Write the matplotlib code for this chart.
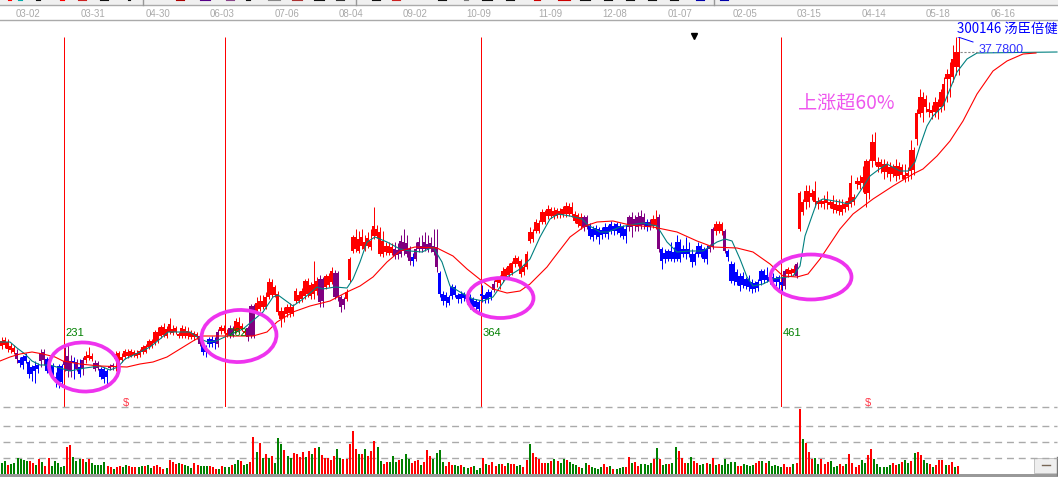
import matplotlib
matplotlib.use("Agg")
import matplotlib.pyplot as plt
from matplotlib.patches import Ellipse, Rectangle
import numpy as np

W, H = 1058, 489
CJK = ['Noto Sans CJK SC', 'DejaVu Sans']

# ---------- candles (price index units) ----------
body_top = [
 66,67,65,61,59,54,47,50,51,45, 40,41,42,54,55,48,48,41,30,41,
 41,46,51,46,46,45,40,47,51,52, 51,44,44,38,38,36,41,42,53,54,
 50,56,55,56,55,54,56,60,61,66, 66,75,75,80,80,78,83,78,79,73,
 79,78,76,75,74,73,71,63,60,68, 68,67,75,80,79,74,79,78,86,85,
 81,76,79,101,101,104,106,106,110,125, 125,120,113,96,96,100,100,100,116,112,
 116,126,126,122,123,126,128,128,131,131, 136,134,134,110,108,115,148,170,170,168,
 170,165,169,166,181,178,175,166,161,161, 160,158,157,166,165,164,158,150,158,165,
 161,165,163,164,161,160,134,113,112,110, 120,120,112,113,113,112,110,108,106,105,
 113,112,115,115,123,128,128,136,138,141, 144,149,149,146,140,153,175,175,185,184,
 195,195,198,198,196,197,196,198,201,201, 200,193,192,190,190,190,181,178,179,178,
 177,180,180,183,181,183,181,180,178,190, 190,188,190,191,190,185,185,188,188,190,
 158,154,156,156,155,165,165,158,158,158, 153,153,161,161,158,158,161,178,183,183,
 183,176,156,143,143,135,131,131,128,128, 125,124,125,136,136,132,130,130,129,130,
 125,136,138,137,138,143,214,205,216,216, 214,216,206,206,206,207,205,205,203,202,
 202,203,206,224,210,226,226,230,246,246, 265,265,245,245,243,243,240,240,241,241,
 240,232,234,257,257,294,310,310,308,298, 297,305,305,315,323,333,333,348,355,355]
body_bottom = [
 61,62,58,57,55,48,44,42,46,33, 33,36,38,46,47,36,34,31,26,25,
 25,42,36,36,44,38,33,38,47,49, 48,38,39,30,28,30,39,40,48,47,
 47,50,51,51,52,51,52,55,55,60, 61,64,66,71,72,71,75,74,75,71,
 71,71,71,70,70,70,63,55,55,63, 63,64,63,76,76,72,71,72,76,76,
 78,74,70,71,71,96,98,100,100,110, 112,112,95,88,89,93,94,93,106,106,
 108,111,113,111,113,116,105,106,120,122, 125,110,110,100,102,108,127,156,158,156,
 161,158,161,160,171,171,153,153,155,154, 154,151,152,153,156,153,146,146,148,158,
 158,158,158,158,155,140,113,106,106,104, 111,112,108,108,109,108,102,100,100,98,
 111,108,108,110,117,125,124,128,130,132, 134,143,143,133,135,140,166,168,176,176,
 185,185,191,191,191,191,192,192,193,193, 193,186,183,181,180,180,171,170,172,170,
 172,173,173,176,176,176,174,171,171,180, 180,181,180,181,182,180,180,181,182,158,
 146,148,148,148,148,148,148,153,153,153, 145,145,153,153,148,148,158,160,176,176,
 176,156,150,126,126,125,121,122,121,120, 118,118,119,126,127,127,126,125,125,125,
 122,121,133,133,134,131,178,195,205,205, 210,205,203,203,203,204,202,198,197,196,
 195,198,200,203,205,223,222,224,213,214, 246,246,240,240,235,235,233,233,231,231,
 232,228,231,236,237,268,293,294,300,295, 294,295,295,300,301,328,328,330,340,340]
high = [
 70,70,68,64,62,58,50,52,54,47, 42,46,44,58,58,50,50,44,35,43,
 43,60,64,52,50,48,48,50,56,60, 54,47,46,40,40,38,43,44,56,56,
 54,58,58,58,57,57,58,62,63,68, 68,77,80,82,84,81,89,82,81,75,
 82,81,80,77,76,75,73,65,62,70, 71,70,78,82,82,78,82,81,89,90,
 84,78,81,103,103,110,112,112,115,129, 128,122,116,100,100,103,104,103,119,116,
 119,128,129,125,146,130,132,130,133,134, 140,137,136,112,110,118,150,172,178,176,
 178,172,175,178,200,182,180,176,165,165, 164,165,164,172,178,172,161,154,165,170,
 172,175,172,170,178,178,136,116,115,112, 123,122,114,116,115,114,113,110,108,107,
 122,114,118,117,127,130,132,140,140,144, 146,152,151,148,143,156,180,178,188,187,
 198,197,202,200,200,199,199,201,205,204, 205,196,194,194,192,192,184,181,182,180,
 180,184,182,186,184,185,184,182,182,192, 195,192,195,197,194,188,188,192,197,193,
 160,158,158,165,160,172,168,162,170,165, 158,155,165,163,160,162,163,180,186,186,
 185,178,158,146,145,138,134,135,130,132, 128,126,128,138,138,140,132,134,131,132,
 130,138,140,139,142,145,216,208,222,222, 218,226,210,208,212,216,207,212,208,208,
 208,206,210,232,213,230,232,241,248,248, 273,275,250,248,248,246,245,243,248,245,
 243,243,240,267,260,298,318,315,312,305, 302,310,308,318,330,338,345,362,370,370]
low = [
 58,59,55,54,53,44,40,38,44,29, 26,24,34,40,42,34,32,28,20,19,
 20,36,30,30,28,36,30,32,44,47, 46,36,37,28,24,20,37,37,36,44,
 45,48,49,50,50,49,50,53,54,58, 59,62,64,69,70,69,73,72,73,69,
 69,69,68,68,67,68,61,52,50,60, 60,58,60,73,74,70,69,70,74,74,
 76,72,66,69,69,94,96,98,98,108, 110,110,92,80,85,90,90,91,104,104,
 105,108,110,108,108,112,100,100,118,120, 123,108,106,95,98,106,125,154,155,154,
 158,156,159,157,168,169,151,150,152,152, 152,148,148,150,152,150,142,141,146,155,
 155,156,155,155,152,135,110,102,100,102, 108,110,104,104,106,103,98,96,96,94,
 105,104,104,107,115,120,118,125,128,130, 132,140,141,130,132,138,164,165,174,174,
 183,183,188,189,188,189,189,190,190,191, 190,184,180,178,176,178,168,166,168,163,
 168,170,168,173,172,173,170,168,164,176, 170,176,176,178,178,176,177,179,178,155,
 138,144,146,146,145,146,145,150,148,150, 140,142,150,150,145,143,155,158,172,174,
 172,154,146,124,122,122,116,119,118,116, 114,115,116,122,124,125,123,122,121,118,
 114,118,130,131,132,129,176,192,198,200, 207,200,198,200,198,198,199,194,194,192,
 192,195,197,200,202,218,218,215,200,208, 240,242,235,234,228,230,226,230,226,228,
 228,225,226,228,232,262,290,285,295,290, 288,290,288,295,297,305,310,325,332,332]
kinds = ("rrrrrpbbbb" "bbbppbbbbb" "bpppbpbprr" "rppbbbpprr" "rrrrrrrrrr" "rrrrrrrrrr"
         "rrrrrrpbbb" "bbprrrpprr" "rrppprrrrr" "rrrrrrrrrr" "rrrrrrpprr" "rpppprrrrr"
         "rrrrrrrrrr" "rppppppbpp" "ppppppbbbb" "bbbbbbbbbb" "bbbbprrrrr" "rrrrrrrrrr"
         "rrrrrrrrrr" "rrrrppbbbb" "bbbbbbbbbp" "pppppbprrp" "bbbbbbbbbb" "bbbbbbpprr"
         "rpbbbbbbbb" "bbbbbbbbbb" "bprrrprrrr" "rrrrrrrrrr" "rrrrrrrrrr" "rrrrrrrrrr"
         "rrrrrrrrrr" "rrrrrrrrrr")

# ---------- moving averages ----------
fast_day = [0,10,17,25,32,40,50,60,70,85,100,110,118,125,140,150,160,168,178,190,200,208,216,227,243,263,273,278,293,303,317,323,335,347,353,360,367,375,387,400,410,422,433,442,450,460,473,483,493,507,520,530,540,550,558,570,582,588,600,608,620,630,643,657,667,677,690,703,717,725,732,740,747,753,763,773,787,793,800,805,812,817,823,840,848,855,863,870,878,887,900,908,915,920,927,933,943,950,957,967,977,1057]
fast_val = [65,65,59,53,46,42,42,39,36,39,41,37,40,48,55,60,68,75,75,75,68,65,66,71,78,95,110,112,101,108,120,118,120,119,128,145,165,170,165,158,156,155,160,145,121,115,108,106,110,130,138,148,170,188,193,191,188,182,175,175,180,182,184,181,165,155,156,156,165,168,166,148,130,121,123,128,130,131,141,171,191,205,208,205,203,208,220,231,237,243,236,236,245,261,281,291,301,318,335,348,354,355]
slow_day = [0,10,20,32,43,55,63,80,100,127,140,153,167,180,193,202,227,253,267,277,293,310,330,347,360,373,387,400,415,437,453,467,482,493,507,520,530,547,553,570,585,597,613,630,653,677,697,713,737,753,770,783,797,808,820,840,853,873,893,913,923,937,950,963,977,993,1007,1023,1036]
slow_val = [46,50,53,55,53,50,46,43,41,40,43,45,50,58,66,71,71,71,75,85,95,101,106,115,121,130,145,156,160,159,151,138,126,118,114,116,123,140,148,170,181,185,186,182,180,175,166,160,159,155,143,131,130,133,148,178,193,208,221,233,238,251,266,286,313,336,346,353,354]

# ---------- volume ----------
volume = [11,13,9,10,11,16,15,14,13,13, 11,9,15,12,8,16,8,13,11, 7,8,27,29,17,13,15,15,12,15,
 11,9,9,9,12,8,7,5,7, 8,7,9,8,7,7,7,8,8,9, 6,8,9,7,5,6,14,12,10,11, 10,9,8,6,11,9,8,8,8,
 8,7,5,5,8,7,7,9,10,14, 13,9,10,12,37,22,31,16,20,16,
 18,11,36,30,24,18,16,21,20,17, 22,17,23,20,26,27,19,16,16,14, 18,25,16,15,15,30,43,25,20,20,
 25,18,23,33,27,13,10,12,12,18, 12,14,15,20,15,11,13,14,9,12, 24,18,15,21,24,12,8,12,9,9,
 8,9,7,6,7,8,4,6,16,10, 9,12,8,10,10,8,11,10,10,8, 9,7,14,30,21,17,15,
 11,11,11,13,15,13,11,15,14,12, 10,9,7,6,11,9,7,6,5,7, 10,7,8,5,5,6,7,7,17,11,
 12,8,10,10,9,11,15,26,15,9, 10,10,11,27,23,16,11,11,17,13, 11,9,10,11,10,16,9,10,9,15,
 10,12,12,8,8,10,9,8,9,11, 13,13,11,13,8,9,8,7,10,7, 7,10,11,65,
 35,31,22,15,16,10,15,10,12,13, 7,8,10,8,10,20,11,7,9,14, 11,19,25,15,10,7,7,7,9,11,
 9,10,12,14,11,13,21,22,19,14, 11,10,7,9,14,14,9,9,12,7, 8]
vol_kind = ("ggrggggggr" "rgrgrrggg" "ggrrgggrgr" "gggggrrgr" "rggrrrggrg" "grrrrgrrrg"
            "rgggrrggg" "rrrgrggrgg" "rggrrgrgrg"
            "rgggrggrrr" "rgrgrgrrrr" "rggrrrrrgr" "grrrggrrgg" "grgggrrrgr" "rrggggrrrg"
            "grggrgggrg" "rrrgrrgrrg" "grrgrrr"
            "rrgrgrggrg" "ggrggrgggg" "rrgrgggrrg" "rrggggrgrg" "grggrrrggr" "rggrgrgrgg"
            "gggrrggggr" "rgrgggggrr" "rgrr"
            "grrrggrrrg" "ggrrgrrrrg" "grrggggggr" "rgrggrgrrg" "grgrrrgrrg" "r")

tick_days = [28,93,158,222,287,351,415,479,550,615,680,745,809,874,938,1003]
tick_labels = ["03-02","03-31","04-30","06-03","07-06","08-04","09-02","10-09",
               "11-09","12-08","01-07","02-05","03-15","04-14","05-18","06-16"]
event_days = [64,225,481,781]
event_labels = ["231","262","364","461"]
event_label_days = [65,228,483,783]

last_price = 355
COL = {"r": "#ff0000", "b": "#0000ff", "p": "#800080", "g": "#008000"}
PINK = "#ee33ee"

fig = plt.figure(figsize=(W/100, H/100), dpi=100, facecolor="white")

def axes_px(x0, ytop, x1, ybot, **kw):
    return fig.add_axes([x0/W, 1-ybot/H, (x1-x0)/W, (ybot-ytop)/H], **kw)

# chrome overlay in pixels
bg = axes_px(0, 0, W, H)
bg.set_xlim(0, W); bg.set_ylim(H, 0); bg.axis("off")
bg.add_patch(Rectangle((0, 0), W, 6, fc="#f0f0f0", ec="none"))
bg.plot([0, W], [6, 6], color="#aaaaaa", lw=1)
bg.plot([0, W], [20.5, 20.5], color="#aaaaaa", lw=1)
for x0, x1, c in [(8,11,"#ff0000"),(18,22,"#00aaaa"),(36,40,"#111111"),(60,64,"#ff0000"),(78,86,"#cc2222"),
                  (100,108,"#111111"),(128,130,"#111111"),(176,184,"#aa0000"),(200,210,"#550088"),(226,234,"#884488"),
                  (246,250,"#111111"),(268,280,"#888888"),(292,302,"#aa3333"),(314,324,"#111111"),(336,344,"#333333"),
                  (372,380,"#111111"),(392,400,"#cc2222"),(438,446,"#111111"),(464,468,"#777777"),(482,492,"#111111"),
                  (506,514,"#111111"),(534,540,"#cc0000"),(558,570,"#cc0000"),(580,590,"#111111"),(604,612,"#111111"),
                  (626,634,"#111111"),(648,656,"#111111"),(670,678,"#111111"),(696,704,"#0000aa"),(720,728,"#0000aa")]:
    bg.plot([x0, x1], [1, 1], color=c, lw=0.8)
for x in [143, 356, 714]:
    bg.plot([x, x], [0, 6], color="#999999", lw=1)
bg.add_patch(Rectangle((0, 475), W, 3, fc="#999999", ec="none"))
bg.add_patch(Rectangle((1034, 459), 23, 15, fc="#eeeeee", ec="#bbbbbb", lw=0.6))
bg.plot([1056.5, 1056.5], [458, 476], color="#777777", lw=1)
bg.plot([1042, 1050], [466, 466], color="#776655", lw=1.0)
for d, t in zip(tick_days, tick_labels):
    bg.text(d, 14, t, color="#aaaaaa", fontsize=7.0, ha="center", va="center", family="Liberation Sans")

# price panel
ax = axes_px(0, 38, W, 408)
ax.set_xlim(0, W); ax.set_ylim(0, 370); ax.axis("off"); ax.patch.set_alpha(0)
day = 1 + 3*np.arange(len(body_top))
ax.vlines(np.array(event_days)-0.5, 0, 370, colors="#ff0000", lw=0.72, zorder=1)
top = np.array(body_top); bot = np.array(body_bottom)
hi = np.array(high); lo = np.array(low)
cols = [COL[k] for k in kinds]
ax.vlines(day+0.5, lo, hi, colors=cols, lw=0.72, zorder=2)
ax.bar(day+0.5, top-bot, bottom=bot, width=3.0, color=cols, lw=0, zorder=3, antialiased=False)
ax.plot(fast_day, fast_val, color="#008080", lw=0.8, zorder=4)
ax.plot(slow_day, slow_val, color="#ff0000", lw=0.8, zorder=4)
ax.plot([960, 978], [last_price, last_price], color="#888888", lw=0.8, ls=(0, (2, 1.5)), zorder=4)
ax.plot([958, 973], [370, 365], color="#0000ff", lw=0.7, zorder=4)
for cx, cy, w, h, ang in [(84, 40, 70, 49, -3), (239, 71, 75, 52, 3), (500.5, 109, 66, 40, 0), (811, 130, 81, 45, 0)]:
    ax.add_patch(Ellipse((cx, cy), w, h, angle=ang, fill=False, ec=PINK, lw=2.7, zorder=5))
for d, t in zip(event_label_days, event_labels):
    ax.text(d, 75, t, color="#008000", fontsize=8, family="Liberation Sans", ha="left", va="center", zorder=6)
ax.plot([694], [371], marker="v", color="black", ms=3.8, clip_on=False, zorder=6)
for d in [126, 868]:
    ax.text(d, 5, "$", color="#ff3344", fontsize=8, ha="center", va="center", zorder=6, family="Liberation Sans", clip_on=False)
ax.text(798, 305, "上涨超60%", color="#ee55ee", fontsize=13.8, family=CJK, ha="left", va="center", zorder=6)
ax.text(957, 379, "300146 汤臣倍健", color="#0000ff", fontsize=9.6, family=CJK, ha="left", va="center", zorder=6, clip_on=False)
ax.text(979, 358, "37.7800", color="#3333ff", fontsize=9, family="Liberation Sans", ha="left", va="center", zorder=6)

# volume panel
vx = axes_px(0, 408, W, 475)
vx.set_xlim(0, W); vx.set_ylim(0, 67); vx.axis("off"); vx.patch.set_alpha(0)
for g in [67, 48, 32, 16]:
    vx.plot([3, 1057], [g, g], color="#aaaaaa", lw=1, ls=(0, (5, 3.5)), zorder=1, clip_on=False)
n = len(volume)
vday = np.linspace(2, 958, n)
assert len(vol_kind) == n, (len(vol_kind), n)
vx.bar(vday, volume, width=2.0, color=[COL[k] for k in vol_kind], lw=0, zorder=2)

fig.savefig("out.png", dpi=100)
